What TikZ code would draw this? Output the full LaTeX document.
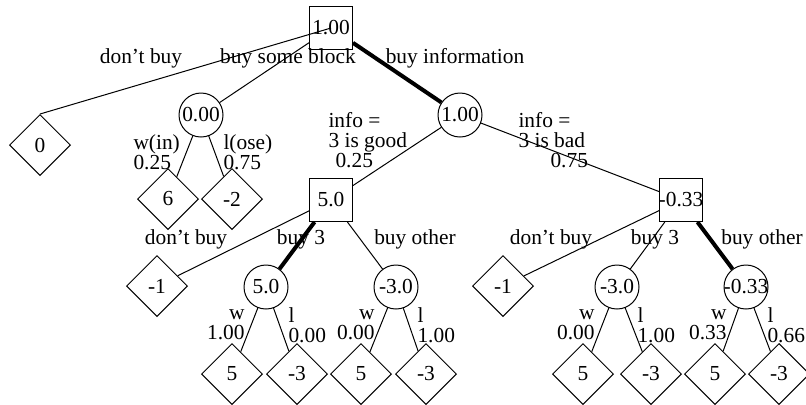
\documentclass[tikz,border=0pt]{standalone}
\usepackage{fontspec}
\setmainfont{Liberation Serif}
\usetikzlibrary{shapes.geometric}

\tikzset{
  decision/.style={draw, rectangle, minimum size=21.5pt, inner sep=-1pt},
  chance/.style={draw, circle, minimum size=22pt, inner sep=-3pt},
  payoff/.style={draw, diamond, minimum width=30.5pt, minimum height=30.5pt, inner sep=0pt},
  act/.style={anchor=base, inner sep=0pt},
  prob/.style={inner sep=0pt},
  best/.style={line width=2pt}
}

\begin{document}
\begin{tikzpicture}[x=0.5pt, y=-0.5pt, line width=0.5pt, font=\fontsize{10.7}{10}\selectfont]
\useasboundingbox (0,0) rectangle (806,404);

% Top decision
\node[decision] (root) at (331,28) {1.00};
\node[payoff] (d0) at (40,145) {0};
\node[chance] (c0) at (201,115) {0.00};
\node[chance] (c1) at (460,115) {1.00};
\node[payoff] (d6) at (168,199) {6};
\node[payoff] (dm2) at (232,199) {-2};

% Second decisions
\node[decision] (good) at (331,200) {5.0};
\node[decision] (bad) at (681,200) {-0.33};

\node[payoff] (gno) at (157,286) {-1};
\node[chance] (gthree) at (266,287) {5.0};
\node[chance] (gother) at (396,287) {-3.0};
\node[payoff] (bno) at (503,286) {-1};
\node[chance] (bthree) at (617,287) {-3.0};
\node[chance] (bother) at (746,287) {-0.33};

% Outcomes
\node[payoff] (e1) at (232,374) {5};
\node[payoff] (e2) at (297,374) {-3};
\node[payoff] (e3) at (361,374) {5};
\node[payoff] (e4) at (426,374) {-3};
\node[payoff] (e5) at (583,374) {5};
\node[payoff] (e6) at (651,374) {-3};
\node[payoff] (e7) at (715,374) {5};
\node[payoff] (e8) at (779,374) {-3};

% Branches
\draw (d0.north) -- (root.center);
\draw (root) -- (c0);
\draw[best] (root) -- (c1);
\draw (c0) -- (d6);
\draw (c0) -- (dm2);
\draw (c1) -- (good);
\draw (c1) -- (bad);
\draw (good) -- (gno);
\draw[best] (good) -- (gthree);
\draw (good) -- (gother);
\draw (bad) -- (bno);
\draw (bad) -- (bthree);
\draw[best] (bad) -- (bother);
\draw (gthree) -- (e1);
\draw (gthree) -- (e2);
\draw (gother) -- (e3);
\draw (gother) -- (e4);
\draw (bthree) -- (e5);
\draw (bthree) -- (e6);
\draw (bother) -- (e7);
\draw (bother) -- (e8);

% Labels
\node[act] (l0) at (141,63) {don't buy};
\node[act] (l1) at (288,63) {buy some block};
\node[act] (l2) at (455,63) {buy information};
\node[prob, align=left, anchor=west] (win) at (133,152) {w(in)\\0.25};
\node[prob, align=left, anchor=west] (lose) at (223,152) {l(ose)\\0.75};
\node[prob, align=left, anchor=west] (igood) at (328,140) {info =\\3 is good\\\hspace*{3.5pt}0.25};
\node[prob, align=left, anchor=west] (ibad) at (518,140) {info =\\3 is bad\\\hspace*{16pt}0.75};

\node[act] (gl0) at (186,244) {don't buy};
\node[act] (gl1) at (301,244) {buy 3};
\node[act] (gl2) at (415,244) {buy other};
\node[act] (bl0) at (551,244) {don't buy};
\node[act] (bl1) at (655,244) {buy 3};
\node[act] (bl2) at (762,244) {buy other};

\node[prob, align=right, anchor=east] (p1) at (245,325) {w\\1.00};
\node[prob, align=left, anchor=west] (p2) at (288,325) {l\\0.00};
\node[prob, align=right, anchor=east] (p3) at (375,325) {w\\0.00};
\node[prob, align=left, anchor=west] (p4) at (417,325) {l\\1.00};
\node[prob, align=right, anchor=east] (p5) at (595,325) {w\\0.00};
\node[prob, align=left, anchor=west] (p6) at (637,325) {l\\1.00};
\node[prob, align=right, anchor=east] (p7) at (727,325) {w\\0.33};
\node[prob, align=left, anchor=west] (p8) at (767,325) {l\\0.66};

\end{tikzpicture}
\end{document}
